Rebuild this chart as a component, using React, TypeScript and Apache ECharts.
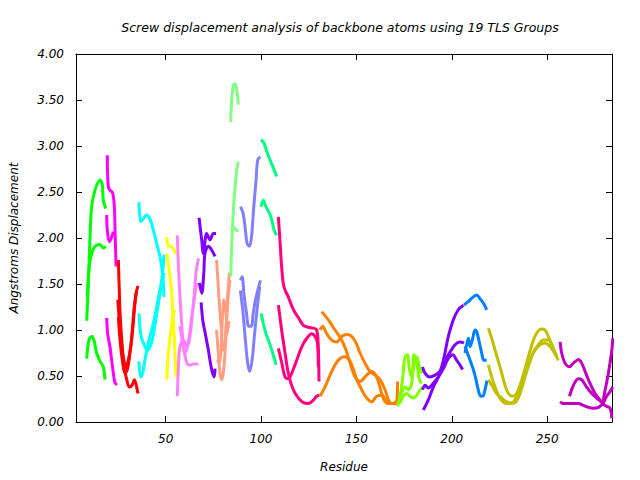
import React, { useEffect, useRef } from "react";
import * as echarts from "echarts";

const titleText = "Screw displacement analysis of backbone atoms using 19 TLS Groups";
const xName = "Residue";
const yName = "Angstroms Displacement";
const xTicks = [50, 100, 150, 200, 250];

// [residue, displacement]
const g1 = [[8.6,1.10],[9.5,1.51],[10.3,1.98],[11.2,2.34],[13.0,2.52],[15.6,2.63],[16.8,2.58],[17.3,2.41],[18.6,2.32]];
const g2 = [[8.9,1.36],[9.9,1.69],[11.2,1.83],[13.0,1.91],[15.6,1.93],[17.3,1.89],[18.6,1.91]];
const g3 = [[8.6,0.69],[9.8,0.89],[11.2,0.93],[12.4,0.89],[13.8,0.75],[15.6,0.66],[17.3,0.60],[18.2,0.46]];

const m1 = [[19.4,2.90],[19.9,2.56],[20.8,2.52],[22.2,2.49],[23.1,2.34],[23.5,2.05],[24.0,1.69]];
const m2 = [[19.1,2.25],[19.4,2.09],[20.5,1.96],[21.7,2.01],[22.6,2.07]];
const m3 = [[19.1,1.13],[19.6,0.96],[20.8,0.82],[21.7,0.67],[22.6,0.53],[23.5,0.42],[24.7,0.41]];

const r1 = [[25.2,1.76],[25.7,1.43],[26.1,1.18],[27.0,0.89],[27.8,0.71],[29.2,0.60],[30.4,0.67],[31.7,0.82],[32.7,1.04],[33.4,1.22],[34.5,1.40],[35.5,1.48]];
const r2 = [[24.9,1.33],[25.7,1.11],[27.0,0.82],[28.2,0.60],[29.6,0.46],[31.0,0.38],[32.4,0.40],[33.6,0.46],[34.8,0.38],[35.5,0.31]];
const r3 = [[25.2,1.14],[26.1,0.89],[27.3,0.67],[28.7,0.53],[29.9,0.57],[31.3,0.75],[32.7,1.00],[33.9,1.29],[34.8,1.43]];

const c1 = [[36.0,2.39],[36.9,2.18],[38.0,2.20],[40.0,2.25],[41.7,2.21],[43.5,2.09],[45.3,1.94],[47.0,1.80],[47.9,1.69],[48.8,1.51],[49.1,1.36]];
const c2 = [[36.0,1.18],[36.9,0.96],[38.3,0.86],[40.4,0.78],[42.7,0.87],[44.5,1.07],[46.2,1.29],[47.5,1.47],[48.5,1.65],[49.2,1.82]];
const c3 = [[36.0,0.66],[36.9,0.49],[38.0,0.53],[39.1,0.67],[40.9,0.86],[43.2,1.04],[45.3,1.25],[47.0,1.43],[49.2,1.62]];

const y1 = [[50.6,2.01],[51.4,1.91],[52.6,1.91],[54.4,1.87],[55.4,1.82]];
const y2 = [[50.6,1.83],[52.0,1.62],[52.9,1.47],[53.8,1.18],[54.6,0.89],[55.4,0.49]];
const y3 = [[50.6,0.46],[51.4,0.75],[52.6,0.96],[53.6,1.14],[54.8,1.22]];

const p1 = [[56.1,2.03],[56.7,1.69],[57.5,1.36],[58.4,1.07],[59.3,0.82],[60.7,0.67],[61.9,0.62],[63.2,0.62],[64.5,0.63],[67.2,0.63]];
const p2 = [[56.1,0.28],[56.7,0.60],[57.5,0.82],[59.3,0.89],[61.1,0.82],[62.4,0.89],[63.7,1.11],[64.9,1.36],[65.9,1.62],[67.2,1.78]];
const p3 = [[57.5,1.04],[58.9,0.86],[60.1,0.75],[61.4,0.82],[62.8,1.00],[64.2,1.22],[65.4,1.40],[66.3,1.51]];

const pu1 = [[67.5,2.22],[68.9,1.98],[69.8,1.83],[71.5,2.05],[73.3,1.98],[75.0,2.05],[76.4,2.05]];
const pu2 = [[67.7,1.51],[68.9,1.40],[70.0,1.62],[70.6,1.83],[72.4,1.91],[74.1,1.87],[75.9,1.80]];
const pu3 = [[68.6,1.30],[69.5,1.10],[70.6,0.98],[72.4,0.78],[74.1,0.57],[75.4,0.49],[75.9,0.58]];

const s1 = [[76.7,1.76],[77.6,1.47],[78.5,1.18],[79.4,0.96],[79.9,0.78],[80.8,0.80],[81.7,1.04],[82.4,1.33],[83.4,1.62]];
const s2 = [[76.7,1.00],[77.6,0.75],[78.5,0.53],[79.4,0.46],[80.2,0.53],[81.1,0.75],[82.0,1.11],[82.9,1.40],[83.8,1.54]];
const s3 = [[77.1,0.67],[78.1,0.64],[78.9,0.75],[79.9,1.18],[80.6,1.33],[81.7,1.18],[82.3,0.96],[83.2,1.10]];

const lg1 = [[84.1,3.26],[84.6,3.50],[85.5,3.66],[86.4,3.68],[87.3,3.61],[88.1,3.45]];
const lg2 = [[84.1,1.58],[84.6,1.91],[85.5,2.30],[86.4,2.56],[87.3,2.74],[88.1,2.83]];
const lg3 = [[85.5,2.12],[86.9,2.09],[88.1,2.07]];

const pw1 = [[89.2,2.34],[90.6,2.27],[91.8,2.09],[92.7,1.94],[93.9,1.91],[95.0,2.01],[96.2,2.34],[97.4,2.63],[98.3,2.85],[99.7,2.88]];
const pw2 = [[89.2,1.54],[90.1,1.58],[91.0,1.40],[92.4,1.18],[93.6,1.04],[94.9,1.04],[95.9,1.18],[97.1,1.33],[98.3,1.43],[99.7,1.54]];
const pw3 = [[89.2,1.43],[90.6,1.18],[91.8,0.89],[93.0,0.64],[94.0,0.55],[95.3,0.67],[96.5,0.93],[97.9,1.22],[99.3,1.47]];

const sg1 = [[100.0,3.07],[101.6,3.03],[103.0,2.94],[104.7,2.85],[106.5,2.76],[108.2,2.67]];
const sg2 = [[100.0,2.34],[101.2,2.41],[102.6,2.34],[104.4,2.27],[105.6,2.20],[106.8,2.09],[108.2,2.03]];
const sg3 = [[100.0,1.18],[101.2,1.07],[102.6,0.96],[104.4,0.86],[106.1,0.75],[107.9,0.62]];

const dp1 = [[109.1,2.23],[110.0,1.95],[110.8,1.69],[112.0,1.47],[114.3,1.36],[117.0,1.22],[119.7,1.13],[122.2,1.05],[124.8,1.03],[127.4,1.02],[129.2,1.00],[130.0,0.82],[130.4,0.44]];
const dp2 = [[109.1,1.27],[110.8,1.00],[112.6,0.75],[114.3,0.53],[116.9,0.35],[119.6,0.26],[122.2,0.21],[124.8,0.20],[127.1,0.23],[129.2,0.28],[130.6,0.29]];
const dp3 = [[109.1,0.80],[110.9,0.64],[112.6,0.49],[114.4,0.47],[116.1,0.53],[118.7,0.67],[121.4,0.82],[124.0,0.91],[126.6,0.96],[128.3,0.93],[129.6,0.86],[130.0,0.60]];

const o1 = [[131.8,1.20],[135.3,1.11],[138.8,1.00],[141.8,0.91],[144.6,0.78],[146.7,0.64],[149.3,0.49],[151.9,0.44],[155.4,0.51],[158.0,0.55],[160.6,0.49],[162.7,0.35],[164.5,0.24],[166.8,0.20],[169.7,0.20],[171.6,0.23]];
const o2 = [[130.9,1.00],[132.3,1.04],[134.4,0.96],[137.0,0.89],[139.7,0.87],[142.3,0.93],[144.9,0.95],[147.5,0.93],[149.8,0.86],[151.9,0.75],[154.5,0.64],[157.1,0.55],[159.8,0.51],[162.4,0.46],[165.0,0.35],[166.8,0.24],[168.5,0.20],[171.1,0.22]];
const o3 = [[130.9,0.28],[133.5,0.38],[136.2,0.51],[138.8,0.62],[141.4,0.69],[144.0,0.71],[146.7,0.66],[148.4,0.57],[150.2,0.46],[152.8,0.35],[155.4,0.26],[158.0,0.22],[160.6,0.28],[163.3,0.29],[165.9,0.22],[168.5,0.20],[170.8,0.20],[171.6,0.44]];

const ch1 = [[171.6,0.17],[172.9,0.28],[174.3,0.49],[175.5,0.71],[176.7,0.73],[177.8,0.57],[179.0,0.49],[180.2,0.64],[181.6,0.71],[183.0,0.60],[184.2,0.53]];
const ch2 = [[172.0,0.20],[173.7,0.31],[175.5,0.38],[177.2,0.35],[179.0,0.42],[180.2,0.73],[181.6,0.64],[183.0,0.46],[184.2,0.42]];
const ch3 = [[172.9,0.20],[174.6,0.28],[176.4,0.31],[178.1,0.28],[179.9,0.26],[181.6,0.29],[183.4,0.35],[184.8,0.38]];

const v1 = [[185.1,0.13],[187.7,0.24],[190.3,0.38],[193.0,0.49],[195.6,0.67],[198.2,0.93],[200.8,1.11],[203.4,1.22],[206.1,1.27]];
const v2 = [[184.7,0.60],[186.0,0.53],[188.6,0.49],[191.2,0.51],[193.8,0.55],[196.5,0.67],[199.1,0.76],[201.7,0.84],[204.3,0.87],[206.4,0.86]];
const v3 = [[184.7,0.35],[186.0,0.40],[187.7,0.37],[190.3,0.42],[193.0,0.49],[195.6,0.58],[198.2,0.69],[200.5,0.73],[202.6,0.67],[204.3,0.62],[205.7,0.57]];

const b1 = [[206.4,1.27],[208.7,1.31],[211.3,1.36],[213.1,1.38],[214.8,1.34],[216.6,1.29],[218.3,1.22]];
const b2 = [[206.9,0.75],[207.8,0.84],[208.7,0.91],[209.6,0.82],[211.0,0.91],[212.2,1.00],[213.1,0.98],[214.5,0.86],[215.7,0.75],[216.9,0.67],[218.3,0.67]];
const b3 = [[206.9,0.82],[208.2,0.75],[209.6,0.67],[211.3,0.57],[212.7,0.46],[213.9,0.35],[215.2,0.28],[216.6,0.29],[217.4,0.35],[218.5,0.45]];

const ol1 = [[219.2,1.02],[220.9,0.91],[222.7,0.78],[224.4,0.66],[226.2,0.53],[227.9,0.40],[229.7,0.31],[231.9,0.28],[234.0,0.31],[236.1,0.42],[238.4,0.58],[240.7,0.75],[242.8,0.89],[244.9,0.98],[247.1,1.01],[248.9,1.00],[250.6,0.93],[252.4,0.84],[254.1,0.75],[255.9,0.67]];
const ol2 = [[219.2,0.62],[220.9,0.49],[222.7,0.38],[224.4,0.29],[226.7,0.22],[228.8,0.20],[231.4,0.20],[233.7,0.22],[235.8,0.31],[238.4,0.49],[240.7,0.64],[242.8,0.76],[245.4,0.84],[248.0,0.89],[250.6,0.89],[252.9,0.82],[255.0,0.71]];
const ol3 = [[219.2,0.46],[221.5,0.38],[223.5,0.31],[226.2,0.26],[228.8,0.22],[231.4,0.21],[233.7,0.26],[236.1,0.38],[238.4,0.53],[241.0,0.67],[243.6,0.78],[246.3,0.84],[248.9,0.86],[251.5,0.82],[253.6,0.76],[255.0,0.71]];

const md1 = [[256.8,0.87],[257.6,0.75],[259.4,0.64],[261.7,0.60],[263.8,0.64],[266.4,0.68],[268.1,0.64],[269.9,0.55],[271.6,0.46],[273.4,0.38],[275.1,0.31],[276.9,0.26],[279.1,0.20],[281.2,0.17],[283.0,0.15],[283.9,0.04]];
const md2 = [[256.8,0.22],[258.5,0.20],[261.1,0.20],[263.8,0.20],[266.4,0.20],[269.0,0.18],[271.6,0.16],[274.2,0.15],[276.9,0.16],[279.1,0.20],[281.2,0.28],[283.0,0.33],[284.4,0.38]];
const md3 = [[261.7,0.28],[263.8,0.40],[266.4,0.47],[268.1,0.46],[270.7,0.38],[273.4,0.31],[276.0,0.26],[278.6,0.22],[280.4,0.35],[282.1,0.53],[283.9,0.78],[284.4,0.91]];

const groupColors = ["#00ff00","#ff00ff","#ff0000","#00ffff","#ffff00","#ff80ff","#8000ff","#ff9f80","#80ff80","#8080ff","#00ff80","#ff0080","#ff8000","#80ff00","#8000ff","#0080ff","#c0c000","#c000c0"];
const groupCurves = [
  [g1, g2, g3], [m1, m2, m3], [r1, r2, r3], [c1, c2, c3], [y1, y2, y3], [p1, p2, p3],
  [pu1, pu2, pu3], [s1, s2, s3], [lg1, lg2, lg3], [pw1, pw2, pw3], [sg1, sg2, sg3],
  [dp1, dp2, dp3], [o1, o2, o3], [ch1, ch2, ch3], [v1, v2, v3], [b1, b2, b3],
  [ol1, ol2, ol3], [md1, md2, md3],
];

const FONT = '"DejaVu Sans", Verdana, sans-serif';

export default function App() {
  const ref = useRef<HTMLDivElement>(null);
  useEffect(() => {
    if (!ref.current) return;
    const chart = echarts.init(ref.current, null, { renderer: "svg" });
    const series: any[] = [];
    groupCurves.forEach((curves, gi) => {
      curves.forEach((data) => {
        series.push({
          type: "line",
          data,
          showSymbol: false,
          smooth: 0.35,
          silent: true,
          clip: true,
          lineStyle: { color: groupColors[gi], width: 3 },
          itemStyle: { color: groupColors[gi] },
        });
      });
    });
    const labelStyle = { fontFamily: FONT, fontStyle: "italic", fontSize: 12, color: "#000" };
    const lineSty = { lineStyle: { color: "#000", width: 1 } };
    chart.setOption({
      animation: false,
      backgroundColor: "#fff",
      grid: { left: 76, right: 28, top: 54, bottom: 58, containLabel: false },
      xAxis: [
        {
          type: "value", min: 3, max: 284, position: "bottom",
          axisLine: { show: true, onZero: false, ...lineSty },
          axisTick: { show: true, inside: true, length: 6, customValues: xTicks, ...lineSty },
          axisLabel: { ...labelStyle, margin: 11, customValues: xTicks },
          splitLine: { show: false },
        },
        {
          type: "value", min: 3, max: 284, position: "top",
          axisLine: { show: true, onZero: false, ...lineSty },
          axisTick: { show: true, inside: true, length: 6, customValues: xTicks, ...lineSty },
          axisLabel: { show: false },
          splitLine: { show: false },
        },
      ],
      yAxis: [
        {
          type: "value", min: 0, max: 4, interval: 0.5, position: "left",
          axisLine: { show: true, onZero: false, ...lineSty },
          axisTick: { show: true, inside: true, length: 6, ...lineSty },
          axisLabel: { ...labelStyle, margin: 12, formatter: (v: number) => v.toFixed(2) },
          splitLine: { show: false },
        },
        {
          type: "value", min: 0, max: 4, interval: 0.5, position: "right",
          axisLine: { show: true, onZero: false, ...lineSty },
          axisTick: { show: true, inside: true, length: 6, ...lineSty },
          axisLabel: { show: false },
          splitLine: { show: false },
        },
      ],
      graphic: [
        { type: "text", x: 340, y: 27, style: { text: titleText, font: `italic 12.5px ${FONT}`, fill: "#000", align: "center", verticalAlign: "middle" } },
        { type: "text", x: 344, y: 467, style: { text: xName, font: `italic 12px ${FONT}`, fill: "#000", align: "center", verticalAlign: "middle" } },
        { type: "text", x: 14, y: 238, rotation: Math.PI / 2, style: { text: yName, font: `italic 12px ${FONT}`, fill: "#000", align: "center", verticalAlign: "middle" } },
      ],
      series,
    });
    return () => chart.dispose();
  }, []);
  return <div ref={ref} style={{ width: 640, height: 480, position: "absolute", left: 0, top: 0 }} />;
}
